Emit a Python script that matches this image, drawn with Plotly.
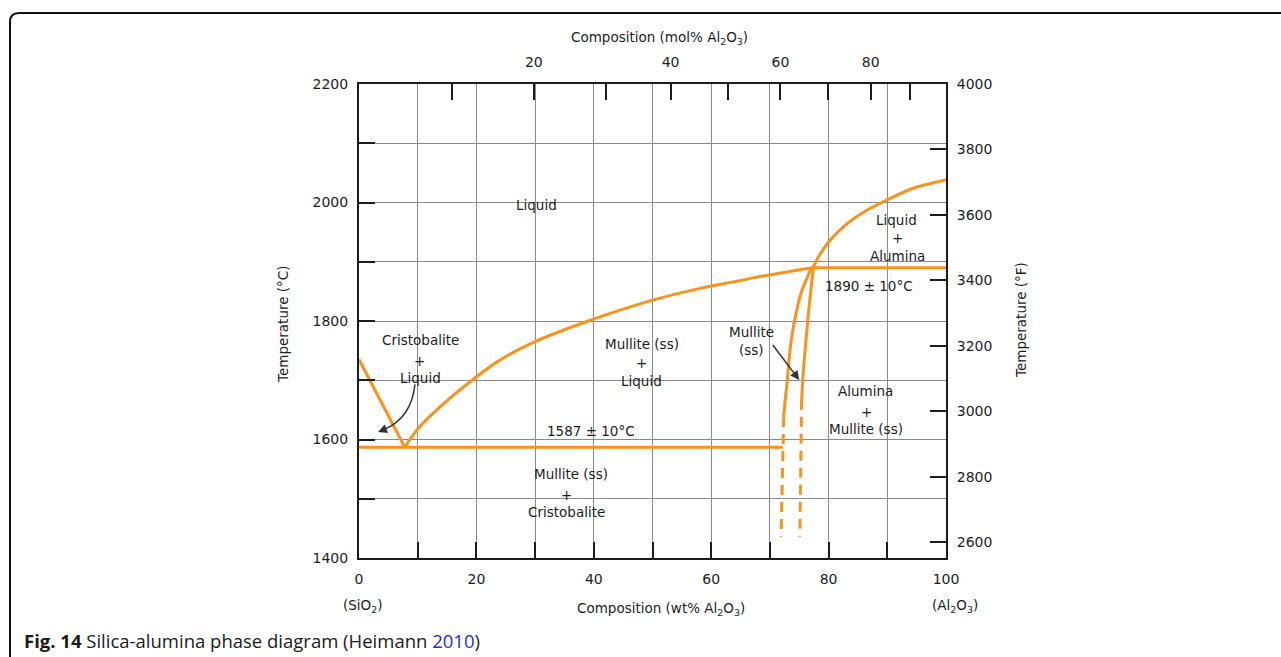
import plotly.graph_objects as go

# ---- Phase boundaries (composition in wt% Al2O3, temperature in deg C) ----
cristobalite_liq_wt = [0.0, 7.8]
cristobalite_liq_t = [1735, 1587]

mullite_liq_wt = [7.8, 10.1, 13.8, 19.5, 24.0, 29.7, 39.9, 49.6, 58.1, 63.8, 69.4, 77.3]
mullite_liq_t = [1587, 1619, 1655, 1702, 1734, 1764, 1803, 1834, 1855, 1866, 1877, 1890]

alumina_liq_wt = [77.3, 78.5, 80.2, 83.0, 86.0, 89.9, 94.4, 100.0]
alumina_liq_t = [1890, 1912, 1936, 1963, 1984, 2004, 2024, 2038]

eutectic_t = 1587
eutectic_wt = [0.0, 72.2]
peritectic_t = 1890
peritectic_wt = [77.3, 100.0]

mullite_left_wt = [77.1, 76.15, 75.3, 74.45, 73.8, 73.3, 72.97, 72.6, 72.35]
mullite_left_t = [1890, 1869, 1847, 1813, 1779, 1740, 1700, 1667, 1638]
mullite_left_dash_wt = [72.35, 71.9]
mullite_left_dash_t = [1638, 1436]

mullite_right_wt = [77.4, 76.8, 76.5, 76.0, 75.7, 75.4]
mullite_right_t = [1890, 1835, 1807, 1751, 1717, 1667]
mullite_right_dash_wt = [75.4, 75.1]
mullite_right_dash_t = [1667, 1436]

# ---- Axis ticks ----
wt_major = list(range(0, 101, 20))
wt_minor = list(range(10, 100, 20))
c_major = list(range(1400, 2201, 200))
c_minor = list(range(1500, 2200, 200))
f_ticks = list(range(2600, 4001, 200))
mol_major = [20, 40, 60, 80]
mol_minor = [10, 30, 50, 70, 90]

# ---- Region labels (text, wt%, deg C) ----
phase_labels = [
    ("Liquid", 30.3, 1996),
    ("Liquid", 91.6, 1970), ("+", 91.7, 1940), ("Alumina", 91.8, 1910),
    ("1890 \u00b1 10\u00b0C", 86.8, 1859),
    ("Mullite", 66.9, 1782), ("(ss)", 66.9, 1751),
    ("Alumina", 86.3, 1682), ("+", 86.4, 1647), ("Mullite (ss)", 86.3, 1618),
    ("Cristobalite", 10.4, 1768), ("+", 10.3, 1733), ("Liquid", 10.4, 1704),
    ("Mullite (ss)", 48.2, 1761), ("+", 48.2, 1729), ("Liquid", 48.2, 1699),
    ("1587 \u00b1 10\u00b0C", 39.6, 1614),
    ("Mullite (ss)", 36.1, 1541), ("+", 35.4, 1507), ("Cristobalite", 35.4, 1478),
]

M_AL2O3 = 101.96
M_SIO2 = 60.08


def mol_to_wt(m):
    a = m * M_AL2O3
    s = (100 - m) * M_SIO2
    return 100 * a / (a + s)


def c_to_f(c):
    return c * 9 / 5 + 32


W, H = 1281, 657
PL, PR, PT, PB = 359, 946, 84, 558
ORANGE = "#F7931E"
INK = "#1c1c1c"
GRID = "#8a8a8a"
FONT = "DejaVu Sans"


def paper_x(px):
    return (px - PL) / (PR - PL)


def paper_y(py):
    return (PB - py) / (PB - PT)


fig = go.Figure()

solid = dict(color=ORANGE, width=3)
dashed = dict(color=ORANGE, width=3, dash="10px,7px")


def add_line(xs, ys, line, spline=False):
    style = dict(line, shape="spline", smoothing=0.8) if spline else dict(line)
    fig.add_trace(go.Scatter(x=xs, y=ys, mode="lines", line=style,
                             hoverinfo="skip", showlegend=False))


add_line(eutectic_wt, [eutectic_t] * len(eutectic_wt), solid)
add_line(peritectic_wt, [peritectic_t] * len(peritectic_wt), solid)
add_line(cristobalite_liq_wt, cristobalite_liq_t, solid)
add_line(mullite_liq_wt, mullite_liq_t, solid, spline=True)
add_line(alumina_liq_wt, alumina_liq_t, solid, spline=True)
add_line(mullite_left_wt, mullite_left_t, solid, spline=True)
add_line(mullite_right_wt, mullite_right_t, solid, spline=True)
add_line(mullite_left_dash_wt, mullite_left_dash_t, dashed)
add_line(mullite_right_dash_wt, mullite_right_dash_t, dashed)

# secondary axes (mol% on top, deg F on the right)
fig.add_trace(go.Scatter(x=[mol_to_wt(mol_major[0])], y=[c_to_f(1500)], xaxis="x2", yaxis="y2",
                         mode="markers", marker=dict(opacity=0), hoverinfo="skip", showlegend=False))

label_font = dict(family=FONT, size=13.5, color=INK)
annotations = []
for text, x, y in phase_labels:
    annotations.append(dict(x=x, y=y, xref="x", yref="y", text=text, showarrow=False,
                            xanchor="center", yanchor="middle", font=label_font))

# arrows pointing into the narrow two-phase fields
arrow_style = dict(text="", showarrow=True, arrowhead=2, arrowsize=1.2, arrowwidth=1.5,
                   arrowcolor="#333333", standoff=0, startstandoff=0,
                   xref="x", yref="y", axref="x", ayref="y")
annotations.append(dict(x=3.24, y=1612.7, ax=4.4, ay=1617.2, **arrow_style))
annotations.append(dict(x=75.0, y=1700.4, ax=70.3, ay=1762, **arrow_style))


def paper_note(px, py, text, **kw):
    d = dict(x=paper_x(px), y=paper_y(py), xref="paper", yref="paper", showarrow=False,
             text=text, xanchor="center", yanchor="middle", font=label_font)
    d.update(kw)
    return d


# axis titles and caption
annotations += [
    paper_note(659, 38, "Composition (mol% Al<sub>2</sub>O<sub>3</sub>)"),
    paper_note(661, 609, "Composition (wt% Al<sub>2</sub>O<sub>3</sub>)"),
    paper_note(363, 606, "(SiO<sub>2</sub>)"),
    paper_note(955, 606, "(Al<sub>2</sub>O<sub>3</sub>)"),
    paper_note(283, 324, "Temperature (\u00b0C)", textangle=-90),
    paper_note(1021, 320, "Temperature (\u00b0F)", textangle=-90),
    paper_note(22, 640,
               "<b>Fig. 14</b> Silica-alumina phase diagram (Heimann "
               "<span style='color:#2b2bd9'>2010</span>)",
               xanchor="left", font=dict(family="Open Sans", size=18.5, color="#1a1a1a")),
]

# figure frame with a rounded top-left corner
fx0, fy0, r = 10, 13, 9
frame_path = (f"M {paper_x(fx0)},{paper_y(H + 5)} L {paper_x(fx0)},{paper_y(fy0 + r)} "
              f"Q {paper_x(fx0)},{paper_y(fy0)} {paper_x(fx0 + r)},{paper_y(fy0)} "
              f"L {paper_x(W + 10)},{paper_y(fy0)}")
shapes = [
    dict(type="path", xref="paper", yref="paper", path=frame_path,
         line=dict(color="#111111", width=2)),
    # curved leader of the cristobalite + liquid arrow
    dict(type="path", xref="x", yref="y", path="M 9.54,1693 Q 8.9,1636 4.3,1617",
         line=dict(color="#333333", width=1.5)),
]

tick_font = dict(family=FONT, size=14, color=INK)
tick_style = dict(ticks="inside", ticklen=16, tickwidth=1.6, tickcolor=INK)
common = dict(showline=True, linecolor=INK, linewidth=2, zeroline=False,
              tickfont=tick_font, fixedrange=True, tickmode="array", **tick_style)
grid = dict(showgrid=True, gridcolor=GRID, gridwidth=1.4)

fig.update_layout(
    width=W, height=H,
    margin=dict(l=PL, r=W - PR, t=PT, b=H - PB, pad=0),
    paper_bgcolor="white", plot_bgcolor="white",
    showlegend=False,
    xaxis=dict(range=[0, 100], tickvals=wt_major, ticktext=[str(v) for v in wt_major],
               ticklabelstandoff=7, minor=dict(tickmode="array", tickvals=wt_minor, **tick_style, **grid),
               **grid, **common),
    yaxis=dict(range=[1400, 2200], tickvals=c_major, ticktext=[str(v) for v in c_major],
               ticklabelstandoff=6, minor=dict(tickmode="array", tickvals=c_minor, **tick_style, **grid),
               **grid, **common),
    xaxis2=dict(range=[0, 100], overlaying="x", side="top",
                tickvals=[mol_to_wt(m) for m in mol_major], ticktext=[str(m) for m in mol_major],
                minor=dict(tickmode="array", tickvals=[mol_to_wt(m) for m in mol_minor],
                           showgrid=False, **tick_style),
                showgrid=False, ticklabelstandoff=9, **common),
    yaxis2=dict(range=[c_to_f(1400), 4000], overlaying="y", side="right",
                tickvals=f_ticks, ticktext=[str(v) for v in f_ticks], showgrid=False,
                ticklabelstandoff=6, **common),
    annotations=annotations,
    shapes=shapes,
)

fig.write_html("out.html")
